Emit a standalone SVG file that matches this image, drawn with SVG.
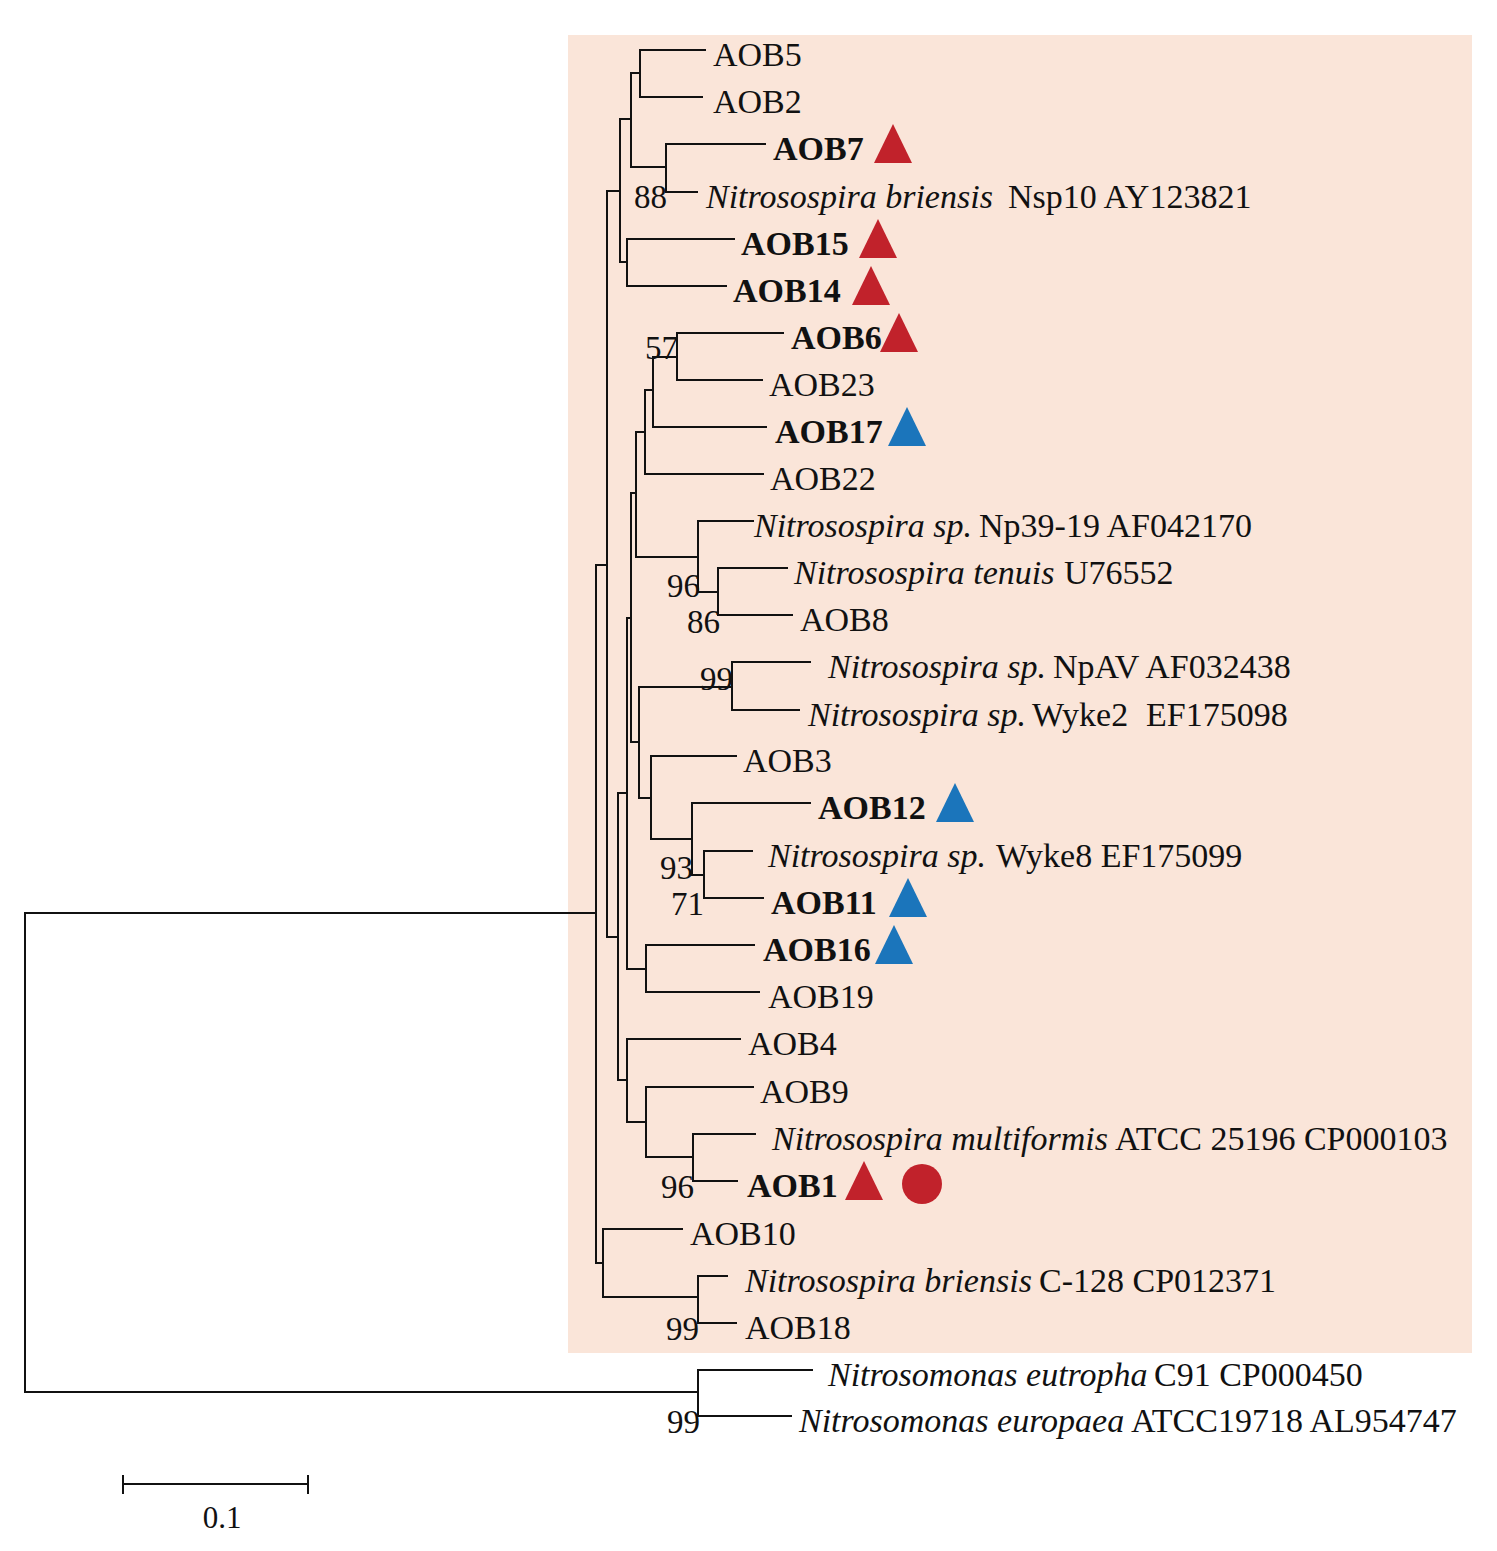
<svg xmlns="http://www.w3.org/2000/svg" width="1497" height="1551" viewBox="0 0 1497 1551">
<style>
text{font-family:"Liberation Serif","Times New Roman",serif;fill:#111;}
.lb{font-size:34px;}
.b{font-weight:bold;}
.i{font-style:italic;}
.bs{font-size:33px;text-anchor:end;}
.br{fill:none;stroke:#111;stroke-width:2;stroke-linecap:square;}
.red{fill:#c1222b;}
.blue{fill:#1b75bb;}
</style>
<defs>
<path id="tri" d="M0,-20 L19,19 L-19,19 Z"/>
</defs>
<rect x="568" y="35" width="904" height="1318" fill="#fae5d9"/>
<g id="connectors" class="br">
<path d="M25,913 V1392 M25,913 H596 M25,1392 H698
M596,565 V1263 M596,565 H607 M596,1263 H603
M607,191 V937 M607,191 H620 M607,937 H618
M620,119 V262 M620,119 H631 M620,262 H627
M631,73 V167 M631,73 H640 M631,167 H666
M640,50 V97 M640,50 H705 M640,97 H702
M666,144 V192 M666,144 H765 M666,192 H697
M627,239 V286 M627,239 H734 M627,286 H726
M618,793 V1080 M618,793 H627 M618,1080 H627
M627,618 V969 M627,618 H631 M627,969 H646
M631,493 V742 M631,493 H636 M631,742 H639
M636,432 V557 M636,432 H645 M636,557 H698
M645,390 V474 M645,390 H653 M645,474 H763
M653,357 V427 M653,357 H677 M653,427 H766
M677,333 V380 M677,333 H783 M677,380 H762
M698,521 V592 M698,521 H753 M698,592 H718
M718,568 V615 M718,568 H787 M718,615 H792
M639,687 V798 M639,687 H732 M639,798 H651
M732,662 V710 M732,662 H810 M732,710 H799
M651,756 V839 M651,756 H736 M651,839 H692
M692,803 V875 M692,803 H810 M692,875 H704
M704,851 V898 M704,851 H752 M704,898 H763
M646,945 V992 M646,945 H754 M646,992 H759
M627,1039 V1122 M627,1039 H740 M627,1122 H646
M646,1087 V1157 M646,1087 H753 M646,1157 H693
M693,1134 V1181 M693,1134 H755 M693,1181 H737
M603,1229 V1297 M603,1229 H682 M603,1297 H698
M698,1276 V1323 M698,1276 H727 M698,1323 H736
M698,1370 V1416 M698,1370 H812 M698,1416 H791"/>
</g>
<g id="bootstrap">
<text class="bs" x="667" y="208">88</text>
<text class="bs" x="678" y="359">57</text>
<text class="bs" x="700" y="597">96</text>
<text class="bs" x="720" y="633">86</text>
<text class="bs" x="733" y="690">99</text>
<text class="bs" x="693" y="879">93</text>
<text class="bs" x="704" y="915">71</text>
<text class="bs" x="694" y="1198">96</text>
<text class="bs" x="699" y="1340">99</text>
<text class="bs" x="700" y="1433">99</text>
</g>
<g id="AOB5"><text class="lb" x="713" y="66">AOB5</text></g>
<g id="AOB2"><text class="lb" x="713" y="113">AOB2</text></g>
<g id="AOB7"><text class="lb b" x="773" y="160">AOB7</text><use href="#tri" class="red" x="893" y="144"/></g>
<g id="Nsp10"><text class="lb" x="706" y="208"><tspan class="i">Nitrosospira briensis</tspan><tspan x="1008">Nsp10 AY123821</tspan></text></g>
<g id="AOB15"><text class="lb b" x="741" y="255">AOB15</text><use href="#tri" class="red" x="878" y="239"/></g>
<g id="AOB14"><text class="lb b" x="733" y="302">AOB14</text><use href="#tri" class="red" x="871" y="286"/></g>
<g id="AOB6"><text class="lb b" x="791" y="349">AOB6</text><use href="#tri" class="red" x="899" y="333"/></g>
<g id="AOB23"><text class="lb" x="769" y="396">AOB23</text></g>
<g id="AOB17"><text class="lb b" x="775" y="443">AOB17</text><use href="#tri" class="blue" x="907" y="427"/></g>
<g id="AOB22"><text class="lb" x="770" y="490">AOB22</text></g>
<g id="Np39-19"><text class="lb" x="754" y="537"><tspan class="i">Nitrosospira sp.</tspan><tspan x="979">Np39-19 AF042170</tspan></text></g>
<g id="tenuis"><text class="lb" x="794" y="584"><tspan class="i">Nitrosospira tenuis</tspan><tspan x="1064">U76552</tspan></text></g>
<g id="AOB8"><text class="lb" x="800" y="631">AOB8</text></g>
<g id="NpAV"><text class="lb" x="828" y="678"><tspan class="i">Nitrosospira sp.</tspan><tspan x="1053">NpAV AF032438</tspan></text></g>
<g id="Wyke2"><text class="lb" x="808" y="726"><tspan class="i">Nitrosospira sp.</tspan><tspan x="1032">Wyke2</tspan><tspan x="1146">EF175098</tspan></text></g>
<g id="AOB3"><text class="lb" x="743" y="772">AOB3</text></g>
<g id="AOB12"><text class="lb b" x="818" y="819">AOB12</text><use href="#tri" class="blue" x="955" y="803"/></g>
<g id="Wyke8"><text class="lb" x="768" y="867"><tspan class="i">Nitrosospira sp.</tspan><tspan x="996">Wyke8 EF175099</tspan></text></g>
<g id="AOB11"><text class="lb b" x="771" y="914">AOB11</text><use href="#tri" class="blue" x="908" y="898"/></g>
<g id="AOB16"><text class="lb b" x="763" y="961">AOB16</text><use href="#tri" class="blue" x="894" y="945"/></g>
<g id="AOB19"><text class="lb" x="768" y="1008">AOB19</text></g>
<g id="AOB4"><text class="lb" x="748" y="1055">AOB4</text></g>
<g id="AOB9"><text class="lb" x="760" y="1103">AOB9</text></g>
<g id="multiformis"><text class="lb" x="772" y="1150"><tspan class="i">Nitrosospira multiformis</tspan><tspan x="1115">ATCC 25196 CP000103</tspan></text></g>
<g id="AOB1"><text class="lb b" x="747" y="1197">AOB1</text><use href="#tri" class="red" x="864" y="1181"/><circle class="red" cx="922" cy="1184" r="20"/></g>
<g id="AOB10"><text class="lb" x="690" y="1245">AOB10</text></g>
<g id="C-128"><text class="lb" x="745" y="1292"><tspan class="i">Nitrosospira briensis</tspan><tspan x="1039">C-128 CP012371</tspan></text></g>
<g id="AOB18"><text class="lb" x="745" y="1339">AOB18</text></g>
<g id="eutropha"><text class="lb" x="828" y="1386"><tspan class="i">Nitrosomonas eutropha</tspan><tspan x="1154">C91 CP000450</tspan></text></g>
<g id="europaea"><text class="lb" x="799" y="1432"><tspan class="i">Nitrosomonas europaea</tspan><tspan x="1131">ATCC19718 AL954747</tspan></text></g>
<g id="scalebar">
<path class="br" d="M123,1484 H308 M123,1476 V1493 M308,1476 V1493"/>
<text x="222" y="1528" style="font-size:31px;text-anchor:middle">0.1</text>
</g>
</svg>
